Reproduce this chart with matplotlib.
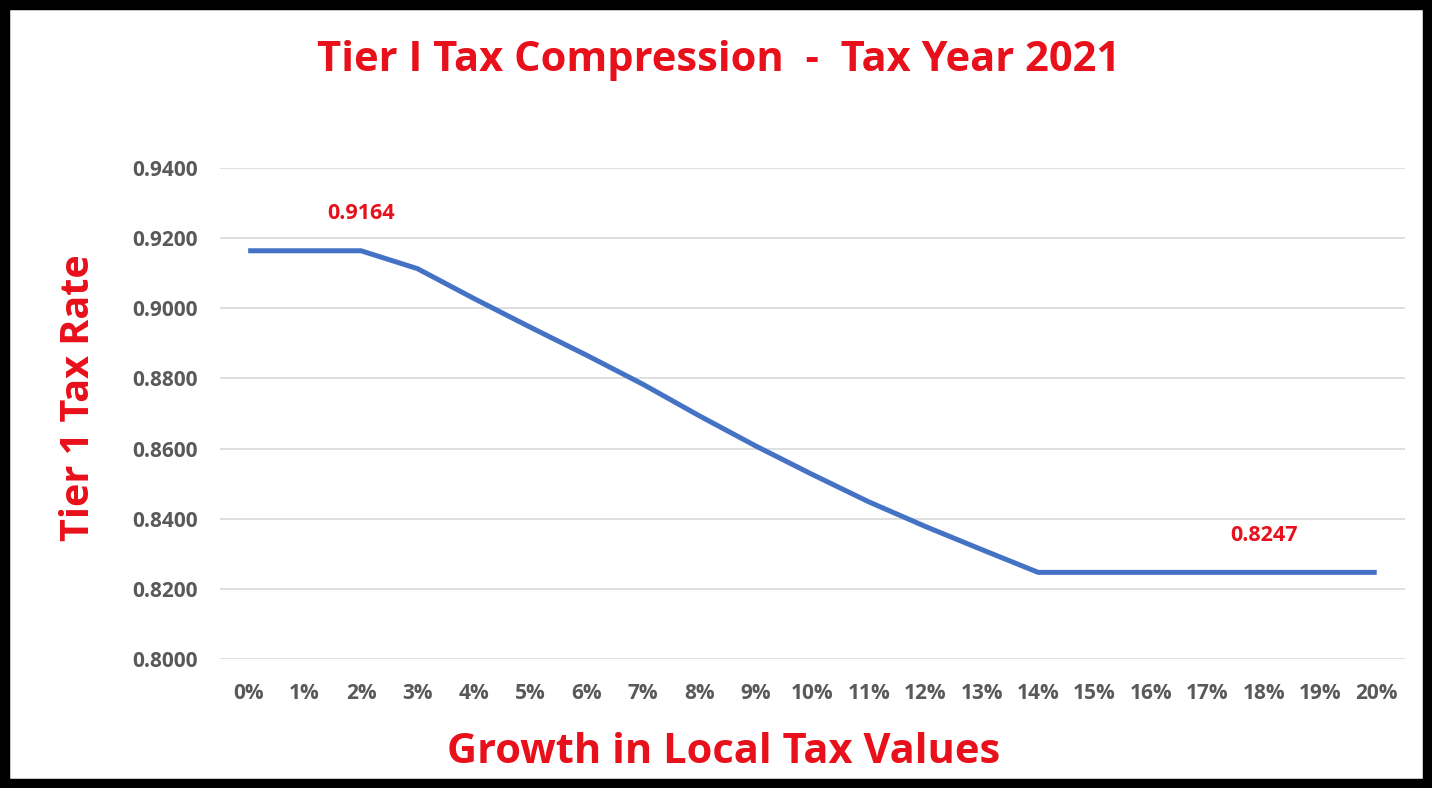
import matplotlib
matplotlib.use("Agg")
import matplotlib.pyplot as plt
from matplotlib.patches import Rectangle

# data
growth = ['0%', '1%', '2%', '3%', '4%', '5%', '6%', '7%', '8%', '9%', '10%',
          '11%', '12%', '13%', '14%', '15%', '16%', '17%', '18%', '19%', '20%']
rate = [0.9164, 0.9164, 0.9164, 0.9113, 0.9028, 0.8946, 0.8866, 0.8783, 0.8693,
        0.8607, 0.8526, 0.8448, 0.8378, 0.8312, 0.8247, 0.8247, 0.8247, 0.8247,
        0.8247, 0.8247, 0.8247]
yticks = [0.80, 0.82, 0.84, 0.86, 0.88, 0.90, 0.92, 0.94]
labelled = {2: '0.9164', 18: '0.8247'}

red = '#e8101a'
grey = '#595959'
plt.rcParams['font.family'] = ['Open Sans', 'DejaVu Sans']

fig = plt.figure(figsize=(14.32, 7.88), dpi=100)
ax = fig.add_axes([0.1536, 0.1637, 0.8275, 0.6231])

x = list(range(len(growth)))
ax.plot(x, rate, color='#4472C4', lw=3.6, solid_capstyle='butt', zorder=3)

for i, txt in labelled.items():
    ax.annotate(txt, (i, rate[i]), xytext=(0, 26.5), textcoords='offset points',
                ha='center', va='center', color=red, fontsize=15.5, fontweight='bold')

ax.set_xlim(-0.5, len(growth) - 0.5)
ax.set_ylim(0.80, 0.94)
ax.set_xticks(x)
ax.set_xticklabels(growth)
ax.set_yticks(yticks)
ax.set_yticklabels(['%.4f' % v for v in yticks])
ax.tick_params(axis='x', length=0, colors=grey, labelsize=15, pad=17)
ax.tick_params(axis='y', length=0, colors=grey, labelsize=15, pad=16)
for lab in ax.get_xticklabels() + ax.get_yticklabels():
    lab.set_fontweight('bold')
ax.grid(axis='y', color='#d9d9d9', lw=1.2)
ax.set_axisbelow(True)
for s in ax.spines.values():
    s.set_visible(False)

fig.text(0.5015, 0.923, 'Tier I Tax Compression  -  Tax Year 2021', ha='center', va='center',
         color=red, fontsize=30, fontweight='bold')
fig.text(0.5052, 0.045, 'Growth in Local Tax Values', ha='center', va='center',
         color=red, fontsize=30, fontweight='bold')
fig.text(0.055, 0.4956, 'Tier 1 Tax Rate', ha='center', va='center', rotation=90,
         color=red, fontsize=28.5, fontweight='bold')

fig.add_artist(Rectangle((0, 0), 1, 1, transform=fig.transFigure, fill=False,
                         edgecolor='black', lw=14))

fig.savefig('out.png', dpi=100)
